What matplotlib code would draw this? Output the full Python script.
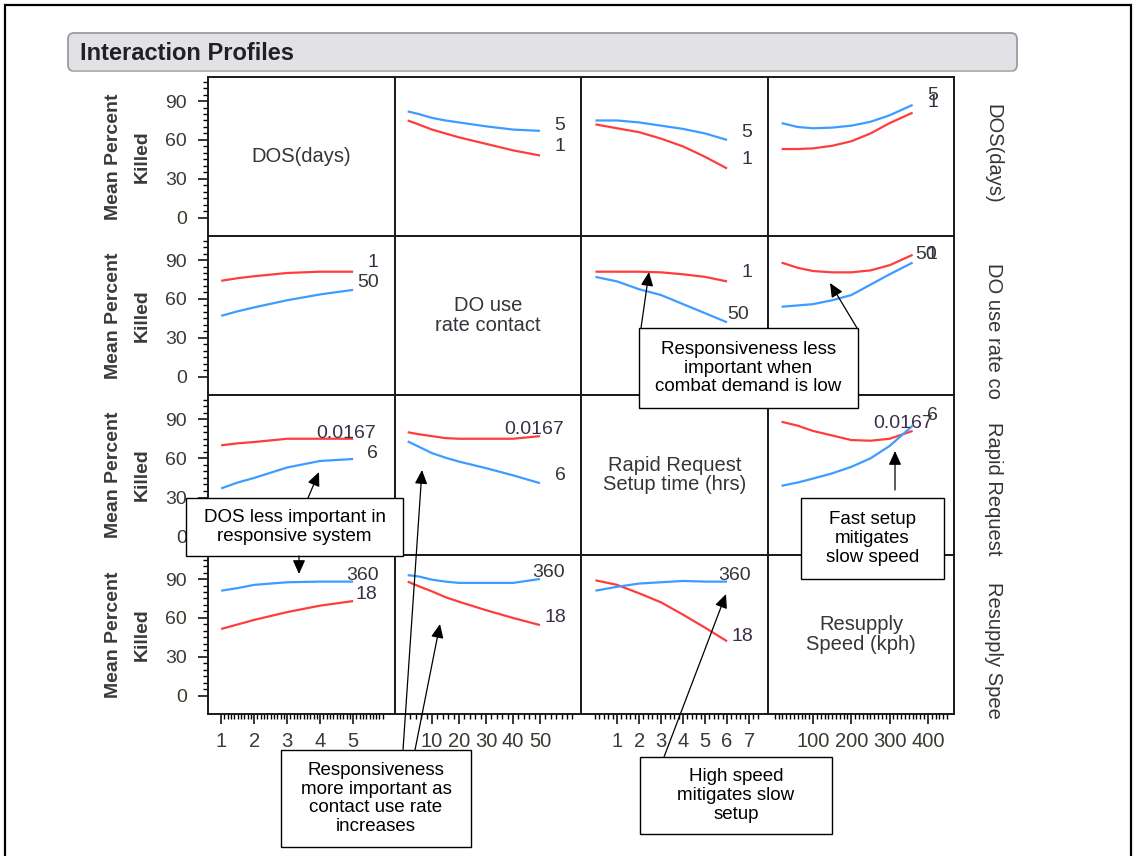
import matplotlib
matplotlib.use("Agg")
import numpy as np
import matplotlib.pyplot as plt
from matplotlib.patches import Rectangle, FancyBboxPatch

plt.rcParams["font.family"] = ["Liberation Sans", "DejaVu Sans"]

# ---------------------------------------------------------------- data
FACTOR_NAMES = ["DOS(days)", "DO use\nrate contact",
                "Rapid Request\nSetup time (hrs)", "Resupply\nSpeed (kph)"]
SIDE_NAMES = ["DOS(days)", "DO use rate co", "Rapid Request", "Resupply Spee"]
LOW_LEVELS = ["1", "1", "0.0167", "18"]
HIGH_LEVELS = ["5", "50", "6", "360"]

DOS_X = [1, 1.5, 2, 3, 4, 5]
USE_X = [1, 5, 10, 15, 20, 30, 40, 50]
SETUP_X = [0.0167, 1, 2, 3, 4, 5, 6]
SPEED_X = [18, 60, 100, 150, 200, 250, 300, 360]

# DOS held at 1 (low) / 5 (high)
DOS_LO_VS_USE = [75, 72, 68, 65, 62, 57, 52, 48]
DOS_HI_VS_USE = [82, 80, 77, 75, 73.5, 70.5, 68, 67]
DOS_LO_VS_SETUP = [72, 69, 66, 61, 55, 47, 38]
DOS_HI_VS_SETUP = [75, 75, 73.5, 71, 68.5, 65, 60]
DOS_LO_VS_SPEED = [53, 53, 53.5, 55.5, 59, 65, 73, 81]
DOS_HI_VS_SPEED = [73, 70, 69, 69.5, 71, 74, 79, 87]

# DO use rate contact held at 1 (low) / 50 (high)
USE_LO_VS_DOS = [74, 76, 77.5, 80, 81, 81]
USE_HI_VS_DOS = [47, 50.5, 53.5, 59, 63.5, 67]
USE_LO_VS_SETUP = [81, 81, 81, 80.5, 79, 77, 73.5]
USE_HI_VS_SETUP = [77, 73.5, 67.5, 63, 56, 49, 42]
USE_LO_VS_SPEED = [88, 84, 81.5, 80.5, 80.5, 82, 86, 94]
USE_HI_VS_SPEED = [54, 55, 56, 59, 63, 71, 79, 88]

# Rapid request setup time held at 0.0167 (low) / 6 (high)
SETUP_LO_VS_DOS = [70, 71.5, 72.5, 75, 75, 75]
SETUP_HI_VS_DOS = [37, 41.5, 45, 53, 58, 59.5]
SETUP_LO_VS_USE = [80, 78.5, 77, 75.5, 75, 75, 75, 77]
SETUP_HI_VS_USE = [73, 69, 64, 60.5, 57.5, 52.5, 47, 41]
SETUP_LO_VS_SPEED = [88, 85, 81, 77.5, 74, 73.5, 75, 81]
SETUP_HI_VS_SPEED = [39, 41.5, 44.5, 48.5, 53.5, 60, 69.5, 85]

# Resupply speed held at 18 (low) / 360 (high)
SPEED_LO_VS_DOS = [51.5, 55, 58.5, 64.5, 69.5, 73]
SPEED_HI_VS_DOS = [81, 83, 85.5, 87.5, 88, 88]
SPEED_LO_VS_USE = [88, 84.5, 80.5, 76, 72.5, 66, 60, 54.5]
SPEED_HI_VS_USE = [93, 92, 89.5, 88, 87, 87, 87, 90]
SPEED_LO_VS_SETUP = [89, 85.5, 79, 72, 62.5, 52.5, 42]
SPEED_HI_VS_SETUP = [81, 84, 86.5, 87.5, 88.5, 88, 88]

X_GRIDS = [DOS_X, USE_X, SETUP_X, SPEED_X]
PROFILES = {
    (0, 1): (DOS_LO_VS_USE, DOS_HI_VS_USE),
    (0, 2): (DOS_LO_VS_SETUP, DOS_HI_VS_SETUP),
    (0, 3): (DOS_LO_VS_SPEED, DOS_HI_VS_SPEED),
    (1, 0): (USE_LO_VS_DOS, USE_HI_VS_DOS),
    (1, 2): (USE_LO_VS_SETUP, USE_HI_VS_SETUP),
    (1, 3): (USE_LO_VS_SPEED, USE_HI_VS_SPEED),
    (2, 0): (SETUP_LO_VS_DOS, SETUP_HI_VS_DOS),
    (2, 1): (SETUP_LO_VS_USE, SETUP_HI_VS_USE),
    (2, 3): (SETUP_LO_VS_SPEED, SETUP_HI_VS_SPEED),
    (3, 0): (SPEED_LO_VS_DOS, SPEED_HI_VS_DOS),
    (3, 1): (SPEED_LO_VS_USE, SPEED_HI_VS_USE),
    (3, 2): (SPEED_LO_VS_SETUP, SPEED_HI_VS_SETUP),
}

X_TICKS = [[1, 2, 3, 4, 5], [10, 20, 30, 40, 50], [1, 2, 3, 4, 5, 6, 7],
           [100, 200, 300, 400]]
Y_TICKS = [0, 30, 60, 90]

# ---------------------------------------------------------------- layout
W, H = 1135, 856
COL_LEFT = [208, 395, 581, 768]
COL_RIGHT = [395, 581, 768, 954]
ROW_TOP = [77, 236, 395, 555]
ROW_BOTTOM = [236, 395, 555, 714]
X_LIMS = [(0.6, 6.27), (-3.7, 65.2), (-0.64, 7.86), (-17.5, 468)]
X_MINOR = [(1, 5.95, 0.1), (2, 63, 2), (0, 7.5, 0.2), (0, 460, 10)]
Y_LIM = (-14, 108.5)

# where the level names sit in each panel (data units): (low, high)
LEVEL_LABEL_POS = {
    (0, 1): ((57.4, 54.6), (57.4, 71.5)),
    (0, 2): ((6.9, 44.6), (6.9, 65.4)),
    (0, 3): ((413, 89), (413, 94.6)),
    (1, 0): ((5.6, 87.8), (5.45, 72.5)),
    (1, 2): ((6.9, 80), (6.5, 48)),
    (1, 3): ((411, 94.6), (395, 94.6)),
    (2, 0): ((4.8, 79.4), (5.6, 64)),
    (2, 1): ((48, 82.4), (57.4, 47)),
    (2, 3): ((335, 87), (411, 93)),
    (3, 0): ((5.4, 78), (5.3, 93)),
    (3, 1): ((55.6, 60.6), (53, 94.7)),
    (3, 2): ((6.7, 46), (6.36, 93)),
}

RED = "#ff3d3d"
BLUE = "#3d9cff"
TXT = "#35343a"
TICK_TXT = "#3d3a33"

fig = plt.figure(figsize=(W / 100, H / 100), dpi=100)
fig.patch.set_facecolor("white")


def px_rect(x0, y0, x1, y1):
    return [x0 / W, 1 - y1 / H, (x1 - x0) / W, (y1 - y0) / H]


for r in range(4):
    for c in range(4):
        ax = fig.add_axes(px_rect(COL_LEFT[c], ROW_TOP[r], COL_RIGHT[c], ROW_BOTTOM[r]))
        ax.set_xlim(*X_LIMS[c])
        ax.set_ylim(*Y_LIM)
        for s in ax.spines.values():
            s.set_linewidth(1.4)
            s.set_color("#1a1a1a")
        ax.tick_params(which="both", left=False, bottom=False,
                       labelleft=False, labelbottom=False)
        if c == 0:
            ax.set_yticks(Y_TICKS)
            ax.set_yticks(np.arange(5, 106, 5), minor=True)
            ax.tick_params(axis="y", which="major", left=True, labelleft=True,
                           length=7, width=1.1, pad=8, labelsize=14,
                           labelcolor=TICK_TXT)
            ax.tick_params(axis="y", which="minor", left=True, length=3.5, width=1)
        else:
            ax.set_yticks([])
        if r == 3:
            ax.set_xticks(X_TICKS[c])
            lo, hi, st = X_MINOR[c]
            ax.set_xticks(np.arange(lo, hi, st), minor=True)
            ax.tick_params(axis="x", which="major", bottom=True, labelbottom=True,
                           length=7, width=1.1, pad=6, labelsize=14.5,
                           labelcolor=TICK_TXT)
            ax.tick_params(axis="x", which="minor", bottom=True, length=3.5, width=1)
        else:
            ax.set_xticks([])

        if r == c:
            ax.text(0.5, 0.5, FACTOR_NAMES[r], transform=ax.transAxes,
                    ha="center", va="center", fontsize=14.5, color=TXT,
                    linespacing=1.05)
            continue

        lo_vals, hi_vals = PROFILES[(r, c)]
        xs = X_GRIDS[c]
        ax.plot(xs, lo_vals, color=RED, lw=1.6, solid_capstyle="butt")
        ax.plot(xs, hi_vals, color=BLUE, lw=1.6, solid_capstyle="butt")
        (lx, ly), (hx, hy) = LEVEL_LABEL_POS[(r, c)]
        ax.text(hx, hy, HIGH_LEVELS[r], ha="center", va="center",
                fontsize=14, color=TXT)
        ax.text(lx, ly, LOW_LEVELS[r], ha="center", va="center",
                fontsize=14, color="#3a2f48")

# ---------------------------------------------------------------- overlay
ov = fig.add_axes([0, 0, 1, 1], zorder=20)
ov.set_xlim(0, W)
ov.set_ylim(H, 0)
ov.axis("off")
ov.patch.set_alpha(0)

# outer frame
ov.plot([5, 5, 1131, 1131], [H + 5, 5, 5, H + 5], color="black", lw=1.6,
        solid_joinstyle="miter", clip_on=False)

# title bar
bar = FancyBboxPatch((68, 33), 949, 38, boxstyle="round,pad=0,rounding_size=6",
                     facecolor="#e2e2e6", edgecolor="#9c9c9c", lw=1.3)
ov.add_patch(bar)
ov.plot([72, 1013], [70.5, 70.5], color="#b8b8b8", lw=1.2)
ov.text(80, 53, "Interaction Profiles", fontsize=17, fontweight="bold",
        color="#202028", ha="left", va="center")

# y-axis titles and row names on the right
for r in range(4):
    yc = (ROW_TOP[r] + ROW_BOTTOM[r]) / 2
    ov.text(113, yc, "Mean Percent", rotation=90, ha="center", va="center",
            fontsize=14, fontweight="bold", color="#3a3a3a")
    ov.text(142, yc, "Killed", rotation=90, ha="center", va="center",
            fontsize=14, fontweight="bold", color="#3a3a3a")
    ov.text(993, ROW_TOP[r] + 27, SIDE_NAMES[r], rotation=-90, ha="center",
            va="top", fontsize=14.5, color=TXT)

# call-out boxes
CALLOUTS = [
    ((639, 328, 858, 408), "Responsiveness less\nimportant when\ncombat demand is low",
     [((641, 328), (649, 272)), ((857, 328), (830, 283))]),
    ((186, 498, 403, 556), "DOS less important in\nresponsive system",
     [((308, 498), (319, 472)), ((299, 556), (299, 574))]),
    ((801, 498, 944, 579), "Fast setup\nmitigates\nslow speed",
     [((895, 490), (895, 451))]),
    ((281, 750, 471, 847), "Responsiveness\nmore important as\ncontact use rate\nincreases",
     [((403, 750), (422, 470)), ((415, 750), (440, 624))]),
    ((640, 757, 832, 834), "High speed\nmitigates slow\nsetup",
     [((664, 757), (726, 594))]),
]

for (x0, y0, x1, y1), txt, arrows in CALLOUTS:
    ov.add_patch(Rectangle((x0, y0), x1 - x0, y1 - y0, facecolor="white",
                           edgecolor="black", lw=1.0, zorder=3))
    ov.text((x0 + x1) / 2, (y0 + y1) / 2, txt, ha="center", va="center",
            fontsize=13.5, color="black", linespacing=1.15, zorder=4)
    for tail, head in arrows:
        ov.annotate("", xy=head, xytext=tail,
                    arrowprops=dict(arrowstyle="-|>,head_length=0.6,head_width=0.27",
                                    color="black", lw=0.9, mutation_scale=14,
                                    shrinkA=0, shrinkB=0), zorder=5)

fig.savefig("out.png", dpi=100, facecolor="white")
